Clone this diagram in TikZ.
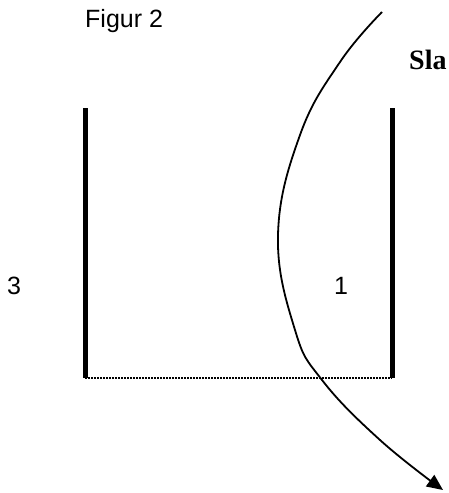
\documentclass[tikz,border=0pt]{standalone}
\usepackage{fontspec}
\setmainfont{Liberation Sans}
\newfontfamily\serifbold{Liberation Serif}
\usetikzlibrary{arrows.meta}
\begin{document}
\begin{tikzpicture}[x=1pt,y=-1pt,
  wall/.style={line width=5pt},
  gap/.style={line width=1.2pt,dash pattern=on 1.5pt off 1.5pt},
  lbl/.style={font=\fontsize{25}{28}\selectfont,inner sep=0pt},
  path/.style={line width=1.8pt,-{Triangle[length=16pt,width=14pt]}}]
\useasboundingbox (0,0) rectangle (449,493);
\coordinate (lt) at (85,108);
\coordinate (lb) at (85,378);
\coordinate (rt) at (392,108);
\coordinate (rb) at (392,378);
\draw[wall] (lt) -- (lb);
\draw[wall] (rt) -- (rb);
\draw[gap] (lb) -- (rb);
\node[lbl,anchor=base west] (fig) at (85,27) {Figur 2};
\node[lbl,anchor=base west,font=\serifbold\bfseries\fontsize{28}{32}\selectfont] (sla) at (409,69) {Sla};
\node[lbl] (n3) at (14,286) {3};
\node[lbl] (n1) at (341,286) {1};
\draw[path] plot[smooth,tension=0.7] coordinates {(382,12) (340,62) (300,135) (278,235) (295,330) (322,380) (380,440) (443,490)};
\end{tikzpicture}
\end{document}
